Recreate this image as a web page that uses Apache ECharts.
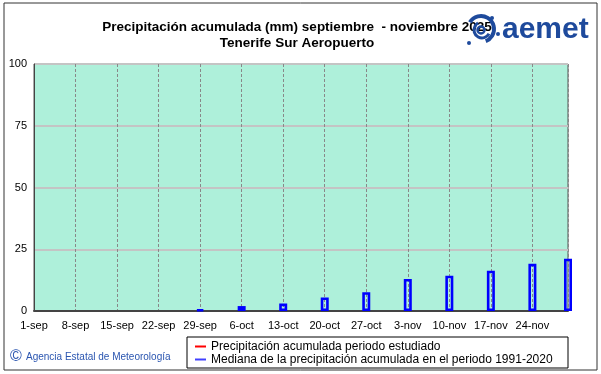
<!DOCTYPE html>
<html>
<head>
<meta charset="utf-8">
<script src="https://cdn.jsdelivr.net/npm/echarts@6/dist/echarts.min.js"></script>
<style>
html,body{margin:0;padding:0;background:#fff;}
#chart{width:601px;height:374px;}
</style>
</head>
<body>
<div id="chart"></div>
<script>
// ---- data ----
var tickLabels = ['1-sep','8-sep','15-sep','22-sep','29-sep','6-oct','13-oct','20-oct','27-oct','3-nov','10-nov','17-nov','24-nov'];
var barDays = [28, 35, 42, 49, 56, 63, 70, 77, 84, 90]; // days since 1-sep
var medianValues = [0.6, 2.0, 3.0, 5.5, 7.6, 13.0, 14.3, 16.3, 19.1, 21.2];
var studiedValues = [];
var yTicks = [0, 25, 50, 75, 100];

var titleText = 'Precipitación acumulada (mm) septiembre  - noviembre 2025';
var subTitleText = 'Tenerife Sur Aeropuerto';
var nameStudied = 'Precipitación acumulada periodo estudiado';
var nameMedian = 'Mediana de la precipitación acumulada en el periodo 1991-2020';

var font = '"Liberation Sans", Arial, sans-serif';
var blue = '#1e4a9c';

var chart = echarts.init(document.getElementById('chart'), null, {renderer: 'canvas'});

var medianData = barDays.map(function (d, i) { return [d, medianValues[i]]; });

chart.setOption({
  animation: false,
  backgroundColor: '#ffffff',
  grid: {
    left: 34, right: 33, top: 64, bottom: 63,
    show: true,
    backgroundColor: '#aef0da',
    borderColor: '#555',
    borderWidth: 1
  },
  legend: {
    orient: 'vertical',
    left: 195,
    top: 340,
    itemWidth: 11,
    itemHeight: 2,
    itemGap: 0,
    padding: 0,
    textStyle: {fontFamily: font, fontSize: 12, color: '#000', lineHeight: 13},
    data: [
      {name: nameStudied, icon: 'rect', itemStyle: {color: '#ff0000', borderWidth: 0}},
      {name: nameMedian, icon: 'rect', itemStyle: {color: '#4040ff', borderWidth: 0}}
    ],
    selectedMode: false
  },
  xAxis: {
    type: 'value',
    min: 0,
    max: 90,
    interval: 7,
    axisLine: {show: true, lineStyle: {color: '#444', width: 2}},
    axisTick: {show: false},
    axisLabel: {
      fontFamily: font, fontSize: 11, color: '#000', margin: 9,
      showMaxLabel: false,
      formatter: function (v) { return (v % 7 === 0 && tickLabels[v / 7]) ? tickLabels[v / 7] : ''; }
    },
    splitLine: {show: true, lineStyle: {color: '#888', width: 1, type: [3, 2]}}
  },
  yAxis: {
    type: 'value',
    min: yTicks[0],
    max: yTicks[yTicks.length - 1],
    interval: 25,
    axisLine: {show: true, lineStyle: {color: '#444', width: 1}},
    axisTick: {show: false},
    axisLabel: {fontFamily: font, fontSize: 11, color: '#000', margin: 7},
    splitLine: {show: true, lineStyle: {color: '#c4c4c4', width: 2}}
  },
  series: [
    {
      name: nameStudied,
      type: 'line',
      data: studiedValues,
      showSymbol: false,
      lineStyle: {color: '#ff0000', width: 1},
      itemStyle: {color: '#ff0000'}
    },
    {
      name: nameMedian,
      type: 'bar',
      data: medianData,
      barWidth: 8,
      itemStyle: {color: 'rgba(0,0,0,0)', borderColor: '#0000ff', borderWidth: 2.6}
    }
  ],
  graphic: [
    {type: 'rect', shape: {x: 4, y: 3, width: 593, height: 367}, style: {fill: 'none', stroke: '#333', lineWidth: 1}, z: -10, silent: true},
    {type: 'rect', shape: {x: 187, y: 337, width: 381, height: 31}, style: {fill: '#fff', stroke: '#000', lineWidth: 1}, z: -5, silent: true},
    {type: 'text', x: 297, y: 27.6, style: {text: titleText, font: 'bold 13.5px ' + font, fill: '#000', align: 'center', verticalAlign: 'middle'}},
    {type: 'text', x: 297, y: 43.6, style: {text: subTitleText, font: 'bold 13.5px ' + font, fill: '#000', align: 'center', verticalAlign: 'middle'}},
    {type: 'text', x: 10, y: 357, style: {text: '©', font: '16px ' + font, fill: '#2a55b0', verticalAlign: 'middle'}},
    {type: 'text', x: 26, y: 357, style: {text: 'Agencia Estatal de Meteorología', font: '10px ' + font, fill: '#2a55b0', verticalAlign: 'middle'}},
    // logo swirl
    {type: 'arc', shape: {cx: 481, cy: 29, r: 13, startAngle: -2.6, endAngle: 1.2}, style: {stroke: blue, lineWidth: 4, fill: 'none'}},
    {type: 'arc', shape: {cx: 482, cy: 30, r: 8, startAngle: 0.5, endAngle: 4.2}, style: {stroke: blue, lineWidth: 3, fill: 'none'}},
    {type: 'arc', shape: {cx: 481, cy: 30, r: 3.5, startAngle: 0, endAngle: 6.28}, style: {stroke: blue, lineWidth: 2.5, fill: 'none'}},
    {type: 'circle', shape: {cx: 469, cy: 43, r: 2}, style: {fill: blue}},
    {type: 'circle', shape: {cx: 498, cy: 34, r: 2}, style: {fill: blue}},
    {type: 'circle', shape: {cx: 492, cy: 18, r: 2}, style: {fill: blue}},
    {type: 'text', x: 502, y: 30, style: {text: 'aemet', font: 'bold 30px ' + font, fill: blue, verticalAlign: 'middle'}}
  ]
});
</script>
</body>
</html>
